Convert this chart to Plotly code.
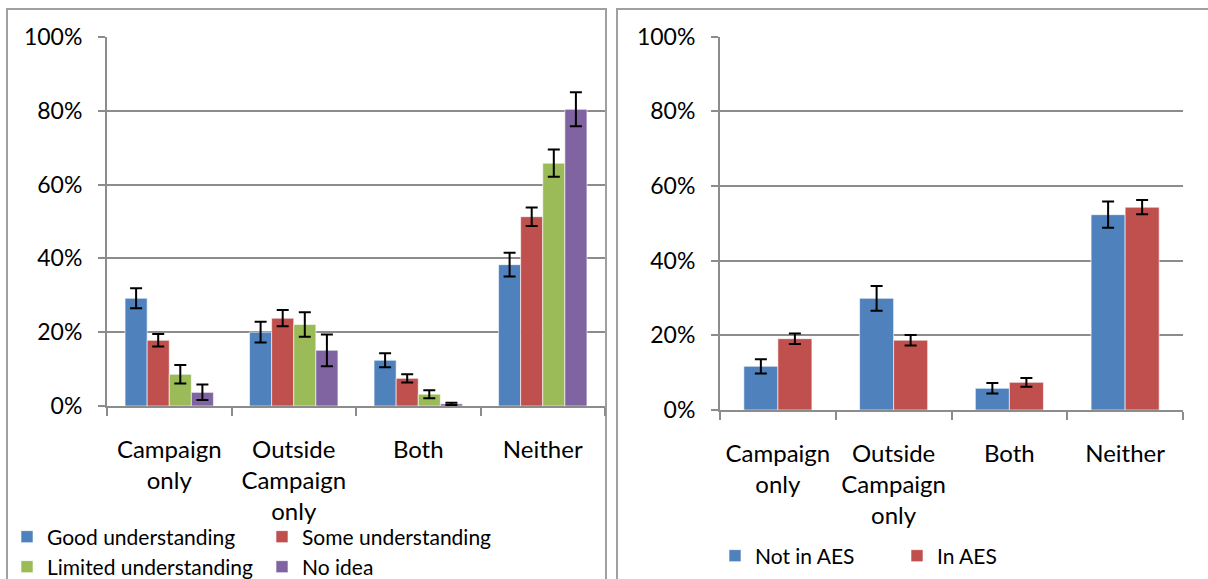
import plotly.graph_objects as go

W, H = 1208, 579

categories = ["Campaign<br>only", "Outside<br>Campaign<br>only", "Both", "Neither"]

# Left panel: by understanding of the campaign (%)
good_vals = [29.2, 20.0, 12.4, 38.3]
good_err = [2.7, 2.8, 1.9, 3.2]
some_vals = [17.8, 23.8, 7.5, 51.3]
some_err = [1.7, 2.2, 1.1, 2.5]
limited_vals = [8.6, 22.1, 3.2, 65.8]
limited_err = [2.5, 3.3, 1.1, 3.7]
noidea_vals = [3.7, 15.1, 0.6, 80.4]
noidea_err = [2.1, 4.3, 0.3, 4.6]

# Right panel: by AES participation (%)
notaes_vals = [11.7, 29.9, 5.8, 52.3]
notaes_err = [1.9, 3.3, 1.4, 3.5]
inaes_vals = [19.1, 18.7, 7.4, 54.3]
inaes_err = [1.4, 1.4, 1.2, 1.9]

y_ticks = [0, 20, 40, 60, 80, 100]
y_tick_labels = ["0%", "20%", "40%", "60%", "80%", "100%"]

BLUE, RED, GREEN, PURPLE = "#4F81BD", "#C0504D", "#9BBB59", "#8064A2"
GRID = "#8C8C8C"
FONT = "Lato"

fig = go.Figure()

def add_bar(name, vals, errs, color, xa, ya, legend, **kw):
    fig.add_trace(go.Bar(
        x=categories, y=vals, name=name, xaxis=xa, yaxis=ya, legend=legend,
        marker=dict(color=color, line=dict(color="rgba(255,255,255,0.6)", width=1)),
        error_y=dict(type="data", array=errs, visible=True, color="black",
                     thickness=2, width=6),
        **kw,
    ))

add_bar("Good understanding", good_vals, good_err, BLUE, "x", "y", "legend")
add_bar("Some understanding", some_vals, some_err, RED, "x", "y", "legend")
add_bar("Limited understanding", limited_vals, limited_err, GREEN, "x", "y", "legend2")
add_bar("No idea", noidea_vals, noidea_err, PURPLE, "x", "y", "legend2")
RW = 0.294
add_bar("Not in AES", notaes_vals, notaes_err, BLUE, "x2", "y2", "legend3",
        width=RW, offset=-RW)
add_bar("In AES", inaes_vals, inaes_err, RED, "x2", "y2", "legend3",
        width=RW, offset=0)

def px(x):
    return x / W

def py(y):
    return 1 - y / H

xaxis_common = dict(
    type="category", showline=True, linecolor=GRID, linewidth=2,
    ticks="outside", tickson="boundaries", ticklen=8, tickcolor=GRID, tickwidth=2,
    showgrid=False, tickfont=dict(family=FONT, size=24, color="black"),
    ticklabelstandoff=21, fixedrange=True, automargin=False,
)
yaxis_common = dict(
    range=[0, 100], tickmode="array", tickvals=y_ticks, ticktext=y_tick_labels,
    showline=True, linecolor=GRID, linewidth=2, ticks="outside", ticklen=7,
    tickcolor=GRID, tickwidth=2, showgrid=True, gridcolor=GRID, gridwidth=2,
    tickfont=dict(family=FONT, size=23, color="black"), ticklabelstandoff=11,
    zeroline=False, fixedrange=True, automargin=False,
)

legend_common = dict(
    orientation="h", font=dict(family=FONT, size=21, color="black"),
    bgcolor="rgba(0,0,0,0)", xanchor="left", yanchor="middle",
    entrywidth=210, entrywidthmode="pixels", tracegroupgap=0,
    itemclick=False, itemdoubleclick=False,
)

fig.update_layout(
    width=W, height=H, margin=dict(l=0, r=0, t=0, b=0, autoexpand=False),
    paper_bgcolor="white", plot_bgcolor="white",
    barmode="group", bargap=0.29, bargroupgap=0,
    showlegend=True,
    xaxis=dict(domain=[px(107), px(605)], anchor="y", **xaxis_common),
    yaxis=dict(domain=[py(406), py(37)], anchor="x", **yaxis_common),
    xaxis2=dict(domain=[px(720), px(1183)], anchor="y2", **xaxis_common),
    yaxis2=dict(domain=[py(410), py(36.5)], anchor="x2", **yaxis_common),
    legend=dict(x=px(7), y=py(537), **legend_common),
    legend2=dict(x=px(7), y=py(567), **legend_common),
    legend3=dict(x=px(715), y=py(556), **{**legend_common, "entrywidth": 137}),
    font=dict(family=FONT, size=22, color="black"),
    shapes=[
        dict(type="rect", xref="paper", yref="paper", x0=px(7), x1=px(606),
             y0=py(600), y1=py(9), line=dict(color="#A0A0A0", width=2), layer="below"),
        dict(type="rect", xref="paper", yref="paper", x0=px(617), x1=px(1230),
             y0=py(600), y1=py(9), line=dict(color="#A0A0A0", width=2), layer="below"),
    ],
)

fig.write_html("out.html", config={"displayModeBar": False},
               post_script="document.body.style.margin='0';")
